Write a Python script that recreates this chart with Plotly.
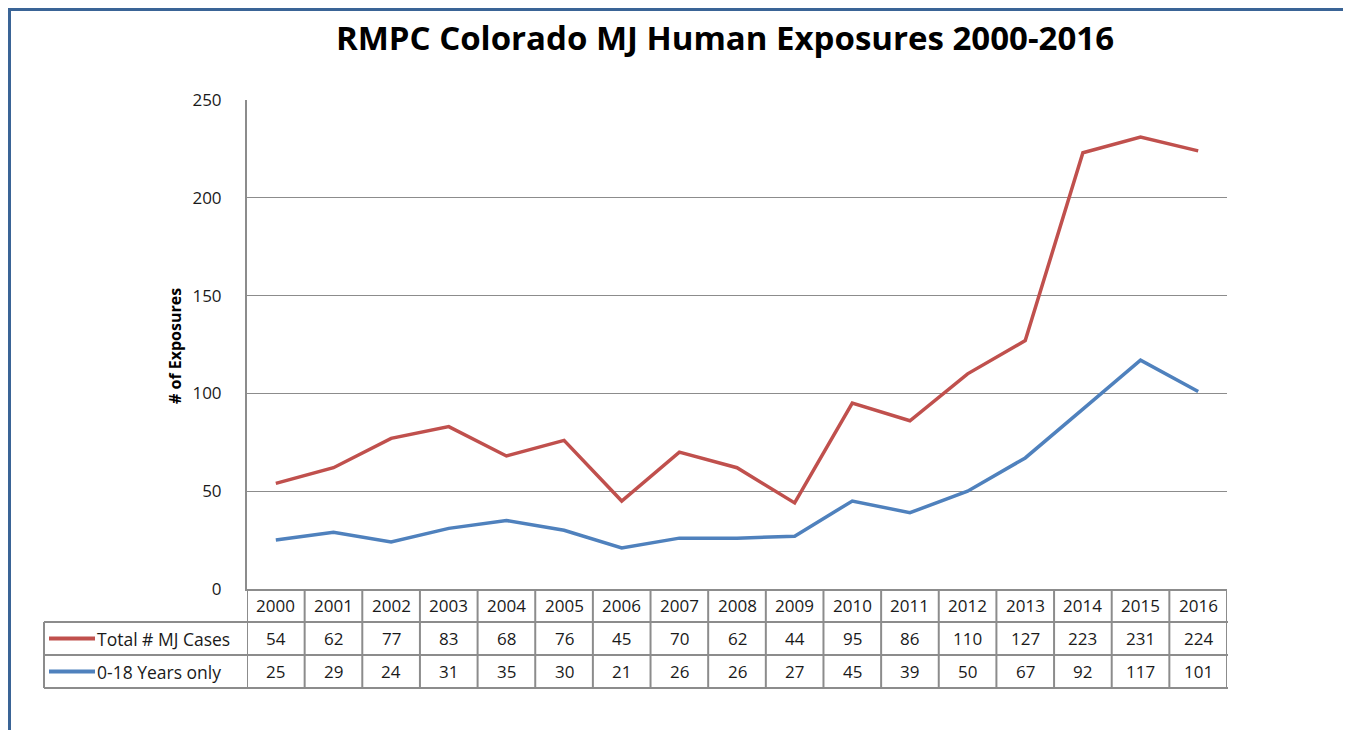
import plotly.graph_objects as go

years = [str(y) for y in range(2000, 2017)]
total_cases = [54, 62, 77, 83, 68, 76, 45, 70, 62, 44, 95, 86, 110, 127, 223, 231, 224]
youth_cases = [25, 29, 24, 31, 35, 30, 21, 26, 26, 27, 45, 39, 50, 67, 92, 117, 101]
series_names = ["Total # MJ Cases", "0-18 Years only"]
series_colors = ["#C0504D", "#4F81BD"]
title_text = "RMPC Colorado MJ Human Exposures 2000-2016"
y_title = "# of Exposures"

# page body has an 8px margin; size the figure to fit the window inside it
OFF = 8
W, H = 1351 - OFF, 738 - 2 * OFF
def px(x): return (x - OFF) / W
def py(y): return 1 - (y - OFF) / H

plot_l, plot_r, plot_t, plot_b = 247, 1227, 100, 589
row_edges = [589, 622, 655, 688]
label_left = 44
grid = "#8C8C8C"
font_fam = "Open Sans, Lato, sans-serif"
txt_col = "#1a1a1a"

fig = go.Figure()
for name, vals, col in zip(series_names, [total_cases, youth_cases], series_colors):
    fig.add_trace(go.Scatter(x=years, y=vals, mode="lines", name=name,
                             line=dict(color=col, width=3.5), showlegend=False))

shapes = []
annotations = []
for i in range(len(years) + 1):
    shapes.append(dict(type="line", xref="x", yref="paper", x0=i - 0.5, x1=i - 0.5,
                       y0=py(row_edges[0]), y1=py(row_edges[-1]),
                       line=dict(color=grid, width=2)))
for ye in row_edges[1:]:
    shapes.append(dict(type="line", xref="paper", yref="paper", x0=px(label_left), x1=px(plot_r + 1),
                       y0=py(ye), y1=py(ye), line=dict(color=grid, width=2)))
shapes.append(dict(type="line", xref="paper", yref="paper", x0=px(label_left), x1=px(label_left),
                   y0=py(row_edges[1]), y1=py(row_edges[-1]), line=dict(color=grid, width=2)))

for i, yr in enumerate(years):
    annotations.append(dict(x=i, xref="x", yref="paper",
                            y=py((row_edges[0] + row_edges[1]) / 2), text=yr, showarrow=False,
                            font=dict(family=font_fam, size=17, color=txt_col), yanchor="middle"))
for r, (name, vals, col) in enumerate(zip(series_names, [total_cases, youth_cases], series_colors)):
    yc = (row_edges[r + 1] + row_edges[r + 2]) / 2
    for i, v in enumerate(vals):
        annotations.append(dict(x=i, xref="x", yref="paper", y=py(yc), text=str(v), showarrow=False,
                                font=dict(family=font_fam, size=17, color=txt_col), yanchor="middle"))
    shapes.append(dict(type="line", xref="paper", yref="paper", x0=px(49), x1=px(95),
                       y0=py(yc), y1=py(yc), line=dict(color=col, width=4)))
    annotations.append(dict(x=px(95), xref="paper", yref="paper", y=py(yc), text=name, showarrow=False,
                            xanchor="left", yanchor="middle",
                            font=dict(family=font_fam, size=17.5, color=txt_col)))

# blue frame, top and left
shapes.append(dict(type="line", xref="paper", yref="paper", x0=0, x1=1, y0=1 - 1.5 / H, y1=1 - 1.5 / H,
                   line=dict(color="#3A6496", width=3)))
shapes.append(dict(type="line", xref="paper", yref="paper", x0=1.5 / W, x1=1.5 / W, y0=0, y1=1,
                   line=dict(color="#3A6496", width=3)))

annotations.append(dict(x=px(177), y=py(346), xref="paper", yref="paper", xanchor="center",
                        yanchor="middle", xshift=-2,
                        text="<b>" + y_title + "</b>", textangle=-90, showarrow=False,
                        font=dict(family=font_fam, size=16, color="#000")))

fig.update_layout(
    width=W, height=H, margin=dict(l=0, r=0, t=0, b=0, autoexpand=False),
    paper_bgcolor="white", plot_bgcolor="white",
    title=dict(text="<b>" + title_text + "</b>", x=px(725), xanchor="center", y=py(38), yanchor="middle",
               font=dict(family=font_fam, size=33, color="#000")),
    xaxis=dict(domain=[px(plot_l), px(plot_r)], range=[-0.5, len(years) - 0.5], type="category",
               showticklabels=False, showgrid=False, zeroline=False, showline=True,
               linecolor=grid, linewidth=2, ticks="", automargin=False),
    yaxis=dict(domain=[py(plot_b), py(plot_t)], range=[0, 250], tickvals=[0, 50, 100, 150, 200, 250],
               showgrid=True, gridcolor=grid, gridwidth=1, zeroline=False, showline=True,
               linecolor=grid, linewidth=2, ticks="", ticklabelstandoff=20, automargin=False,
               tickfont=dict(family=font_fam, size=17, color=txt_col)),
    shapes=shapes, annotations=annotations,
)
fig.write_html("out.html")
